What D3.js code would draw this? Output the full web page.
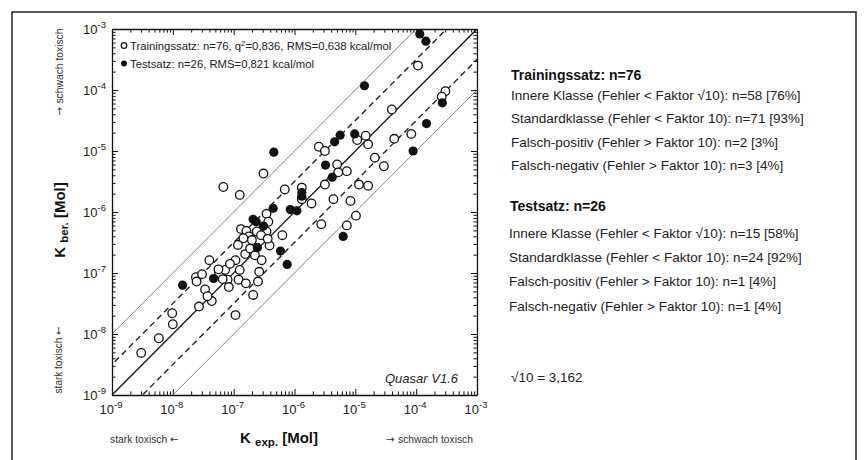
<!DOCTYPE html>
<html>
<head>
<meta charset="utf-8">
<script src="https://cdn.jsdelivr.net/npm/d3@7"></script>
<style>
  body { margin: 0; background: #fff; }
  svg { display: block; font-family: "Liberation Sans", Arial, Helvetica, sans-serif; }
  .arrow { font-family: "DejaVu Sans", sans-serif; }
</style>
</head>
<body>
<div id="chart"></div>
<script>
// values, stored as log10(K / Mol)
var trainLogExp = [-8.52,-8.23,-8.01,-8.00,-7.57,-7.36,-7.47,-7.62,-7.61,-7.52,
  -7.40,-7.24,-7.14,-7.10,-7.08,-6.97,-6.90,-6.92,-6.80,-6.97,
  -6.93,-6.88,-6.79,-6.75,-6.81,-6.68,-7.17,-6.90,-6.51,-6.16,
  -5.88,-5.88,-5.72,-5.56,-6.46,-6.43,-6.62,-6.46,-6.20,-6.41,
  -6.73,-6.65,-6.54,-6.58,-6.60,-5.30,-5.28,-5.14,-4.68,-4.53,
  -5.50,-4.94,-4.79,-5.36,-5.08,-5.14,-4.99,-5.60,-5.50,-4.97,
  -4.83,-4.79,-4.36,-4.08,-3.97,-3.52,-3.58,-4.40,-7.43,-7.25,
  -6.55,-6.84,-7.06,-6.44,-6.70,-7.18];
var trainLogBer = [-8.31,-8.07,-7.66,-7.84,-7.55,-7.46,-7.27,-7.07,-7.14,-7.02,
  -6.79,-7.00,-6.95,-7.11,-7.23,-7.69,-6.95,-7.11,-7.17,-6.79,
  -6.54,-6.28,-6.31,-6.40,-6.69,-7.36,-5.59,-5.72,-5.37,-5.63,
  -5.60,-5.79,-5.86,-6.20,-6.03,-6.16,-6.32,-6.32,-6.38,-6.55,
  -6.60,-6.71,-6.79,-6.98,-7.14,-5.22,-5.35,-5.33,-5.11,-5.25,
  -5.55,-5.55,-5.57,-5.79,-5.82,-6.22,-6.06,-4.93,-5.00,-4.82,
  -4.75,-4.89,-4.80,-4.72,-3.60,-4.02,-4.11,-4.32,-7.38,-6.94,
  -6.38,-6.43,-6.85,-6.44,-6.46,-7.10];
var testLogExp = [-7.84,-7.33,-6.34,-5.88,-5.88,-6.35,-6.07,-5.96,-6.68,-6.63,
  -6.51,-6.61,-6.23,-6.12,-5.49,-5.38,-5.20,-5.34,-5.25,-5.01,
  -4.05,-3.94,-3.84,-4.85,-3.57,-3.83];
var testLogBer = [-7.20,-7.09,-5.02,-5.68,-5.74,-5.94,-5.96,-5.98,-6.12,-6.16,
  -6.23,-6.58,-6.64,-6.86,-5.23,-5.43,-6.40,-4.85,-4.74,-4.72,
  -5.00,-3.08,-3.20,-3.93,-4.21,-4.55];

var decades = [-9, -8, -7, -6, -5, -4, -3];
var guideFactors = [0.1, 1 / Math.sqrt(10), 1, Math.sqrt(10), 10];

var legendLines = ["Trainingssatz: n=76, q", "Testsatz: n=26, RMS=0,821 kcal/mol"];
var trainTitle = "Trainingssatz: n=76";
var trainStats = [
  "Innere Klasse (Fehler < Faktor \u221a10): n=58 [76%]",
  "Standardklasse (Fehler < Faktor 10): n=71 [93%]",
  "Falsch-positiv (Fehler > Faktor 10): n=2 [3%]",
  "Falsch-negativ (Fehler > Faktor 10): n=3 [4%]"];
var testTitle = "Testsatz: n=26";
var testStats = [
  "Innere Klasse (Fehler < Faktor \u221a10): n=15 [58%]",
  "Standardklasse (Fehler < Faktor 10): n=24 [92%]",
  "Falsch-positiv (Fehler > Faktor 10): n=1 [4%]",
  "Falsch-negativ (Fehler > Faktor 10): n=1 [4%]"];

var svgWidth = 866, svgHeight = 460;
var plotL = 112, plotR = 477, plotT = 29, plotB = 395;

var svg = d3.select("#chart").append("svg")
  .attr("width", svgWidth)
  .attr("height", svgHeight);

// outer frame
svg.append("rect")
  .attr("x", 12).attr("y", 12)
  .attr("width", 844).attr("height", 470)
  .attr("fill", "none").attr("stroke", "#222").attr("stroke-width", 1.5);

var x = d3.scaleLog().domain([1e-9, 1e-3]).range([plotL, plotR]);
var y = d3.scaleLog().domain([1e-9, 1e-3]).range([plotB, plotT]);

function isMajor(d) {
  var l = Math.log10(d);
  return Math.abs(l - Math.round(l)) < 1e-6;
}

svg.append("clipPath").attr("id", "plotclip")
  .append("rect")
  .attr("x", plotL).attr("y", plotT)
  .attr("width", plotR - plotL).attr("height", plotB - plotT);

// guide lines: y = f * x
var guide = d3.line().x(d => x(d[0])).y(d => y(d[1]));
var guides = svg.append("g").attr("clip-path", "url(#plotclip)");
guideFactors.forEach(function(f) {
  var path = guides.append("path")
    .datum([[1e-10, 1e-10 * f], [1e-2, 1e-2 * f]])
    .attr("d", guide)
    .attr("fill", "none");
  if (f === 1) {
    path.attr("stroke", "#111").attr("stroke-width", 1.3);
  } else if (f === 10 || f === 0.1) {
    path.attr("stroke", "#777").attr("stroke-width", 0.9);
  } else {
    path.attr("stroke", "#222").attr("stroke-width", 1.4).attr("stroke-dasharray", "6,4");
  }
});

// axes on all four sides, ticks pointing inward
var axes = [
  { gen: d3.axisBottom(x), t: `translate(0,${plotB})`, attr: "y2", ticks: x.ticks() },
  { gen: d3.axisTop(x), t: `translate(0,${plotT})`, attr: "y2", ticks: x.ticks() },
  { gen: d3.axisLeft(y), t: `translate(${plotL},0)`, attr: "x2", ticks: y.ticks() },
  { gen: d3.axisRight(y), t: `translate(${plotR},0)`, attr: "x2", ticks: y.ticks() }
];
axes.forEach(function(a) {
  var g = svg.append("g")
    .attr("transform", a.t)
    .call(a.gen.tickValues(a.ticks).tickSize(-6).tickSizeOuter(0).tickFormat(() => ""));
  g.select(".domain").attr("stroke", "#111").attr("stroke-width", 1.3);
  g.selectAll(".tick line")
    .attr("stroke", "#111")
    .attr("stroke-width", 1)
    .each(function(d) {
      if (!isMajor(d)) {
        var el = d3.select(this);
        el.attr(a.attr, +el.attr(a.attr) * 0.6);
      }
    });
});

// tick labels 10^n
var xLabels = svg.append("g").attr("fill", "#222").attr("font-size", 13);
decades.forEach(function(e) {
  var t = xLabels.append("text")
    .attr("x", x(Math.pow(10, e)) - 1)
    .attr("y", 414)
    .attr("text-anchor", "middle");
  t.append("tspan").text("10");
  t.append("tspan").attr("dy", -6).attr("font-size", 9.5).text(e);
});
var yLabels = svg.append("g").attr("fill", "#222").attr("font-size", 13);
decades.forEach(function(e) {
  var t = yLabels.append("text")
    .attr("x", 106)
    .attr("y", y(Math.pow(10, e)) + 4.5)
    .attr("text-anchor", "end");
  t.append("tspan").text("10");
  t.append("tspan").attr("dy", -6).attr("font-size", 9.5).text(e);
});

// axis titles
var xTitle = svg.append("text")
  .attr("x", 279).attr("y", 443)
  .attr("text-anchor", "middle")
  .attr("font-weight", "bold").attr("fill", "#111").attr("font-size", 15);
xTitle.append("tspan").text("K ");
xTitle.append("tspan").attr("font-size", 11.5).attr("dy", 3).text("exp.");
xTitle.append("tspan").attr("dy", -3).text(" [Mol]");

var yTitle = svg.append("text")
  .attr("transform", "translate(65,220) rotate(-90)")
  .attr("text-anchor", "middle")
  .attr("font-weight", "bold").attr("fill", "#111").attr("font-size", 15);
yTitle.append("tspan").text("K ");
yTitle.append("tspan").attr("font-size", 11.5).attr("dy", 3).text("ber.");
yTitle.append("tspan").attr("dy", -3).text(" [Mol]");

// toxicity direction hints
function hintText(sel, before, after) {
  if (before) sel.append("tspan").attr("class", "arrow").text(before + " ");
  sel.append("tspan").text(after ? "stark toxisch " : "schwach toxisch");
  if (after) sel.append("tspan").attr("class", "arrow").text(after);
}
var hint = svg.append("g").attr("fill", "#333").attr("font-size", 10.3);
hintText(hint.append("text").attr("x", 110).attr("y", 443), null, "\u2190");
hintText(hint.append("text").attr("x", 473).attr("y", 443).attr("text-anchor", "end"), "\u2192", null);
hintText(hint.append("text").attr("transform", "translate(63,72) rotate(-90)")
  .attr("text-anchor", "middle"), "\u2192", null);
hintText(hint.append("text").attr("transform", "translate(62,360) rotate(-90)")
  .attr("text-anchor", "middle").attr("font-size", 10), null, "\u2190");

// data points
var trainData = trainLogExp.map((v, i) => ({ exp: Math.pow(10, v), ber: Math.pow(10, trainLogBer[i]) }));
var testData = testLogExp.map((v, i) => ({ exp: Math.pow(10, v), ber: Math.pow(10, testLogBer[i]) }));

svg.append("g").selectAll("circle")
  .data(trainData)
  .enter()
  .append("circle")
  .attr("cx", d => x(d.exp))
  .attr("cy", d => y(d.ber))
  .attr("r", 4.3)
  .attr("fill", "#fff")
  .attr("stroke", "#111")
  .attr("stroke-width", 1.3);

svg.append("g").selectAll("circle")
  .data(testData)
  .enter()
  .append("circle")
  .attr("cx", d => x(d.exp))
  .attr("cy", d => y(d.ber))
  .attr("r", 4.6)
  .attr("fill", "#111");

// legend inside plot
var legend = svg.append("g").attr("font-size", 11.3).attr("fill", "#222");
legend.append("circle").attr("cx", 124).attr("cy", 45.5).attr("r", 2.8)
  .attr("fill", "#fff").attr("stroke", "#111").attr("stroke-width", 1.2);
var l1 = legend.append("text").attr("x", 130).attr("y", 49.5);
l1.append("tspan").text(legendLines[0]);
l1.append("tspan").attr("dy", -4).attr("font-size", 8).text("2");
l1.append("tspan").attr("dy", 4).text("=0,836, RMS=0,638 kcal/mol");
legend.append("circle").attr("cx", 124).attr("cy", 63.5).attr("r", 3)
  .attr("fill", "#111");
legend.append("text").attr("x", 130).attr("y", 67.5).text(legendLines[1]);

svg.append("text")
  .attr("x", 458).attr("y", 383)
  .attr("text-anchor", "end")
  .attr("font-style", "italic")
  .attr("font-size", 13)
  .attr("fill", "#222")
  .text("Quasar V1.6");

// statistics panel
var panel = svg.append("g").attr("fill", "#222");
panel.append("text").attr("x", 511).attr("y", 80)
  .attr("font-weight", "bold").attr("font-size", 14).attr("fill", "#111").text(trainTitle);
panel.selectAll(".trainline")
  .data(trainStats)
  .enter()
  .append("text")
  .attr("class", "trainline")
  .attr("x", 511)
  .attr("y", (d, i) => 100 + i * 23.3)
  .attr("font-size", 13.5)
  .text(d => d);

panel.append("text").attr("x", 510).attr("y", 211)
  .attr("font-weight", "bold").attr("font-size", 14).attr("fill", "#111").text(testTitle);
panel.selectAll(".testline")
  .data(testStats)
  .enter()
  .append("text")
  .attr("class", "testline")
  .attr("x", 509)
  .attr("y", (d, i) => 238 + i * 24.2)
  .attr("font-size", 13.5)
  .text(d => d);

panel.append("text").attr("x", 511).attr("y", 382)
  .attr("font-size", 13.5).text("\u221a10 = 3,162");
</script>
</body>
</html>
